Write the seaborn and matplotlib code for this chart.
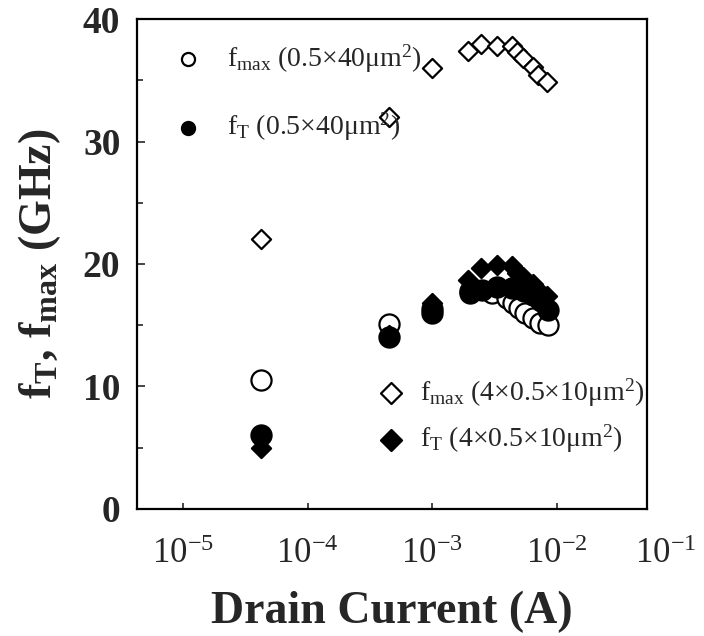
import matplotlib
matplotlib.use("Agg")
import matplotlib.pyplot as plt
import matplotlib.ticker as mticker
import pandas as pd
import seaborn as sns

# 0.5x40 um^2 device (circles)
current_small = [4.2e-5, 4.5e-4, 1.0e-3, 2.0e-3, 3.0e-3, 4.0e-3, 4.5e-3, 5.0e-3, 5.6e-3, 6.4e-3, 7.4e-3, 8.5e-3]
fmax_small = [10.5, 15.1, 16.3, 17.8, 17.6, 17.2, 16.8, 16.4, 16.0, 15.6, 15.2, 15.0]
current_small_ft = [4.2e-5, 4.5e-4, 1.0e-3, 2.0e-3, 2.5e-3, 3.3e-3, 4.4e-3, 5.5e-3, 6.5e-3, 7.5e-3, 8.5e-3]
ft_small = [6.0, 14.0, 16.0, 17.6, 17.9, 18.1, 18.0, 17.8, 17.5, 17.0, 16.2]

# 4x0.5x10 um^2 device (diamonds)
current_large = [4.2e-5, 4.5e-4, 1.0e-3, 1.95e-3, 2.45e-3, 3.3e-3, 4.4e-3, 4.8e-3, 5.4e-3, 6.4e-3, 7.1e-3, 8.4e-3]
fmax_large = [22.0, 32.0, 36.0, 37.4, 38.0, 37.8, 37.8, 37.3, 36.8, 36.1, 35.4, 34.9]
ft_large = [5.0, 14.2, 16.8, 18.7, 19.7, 19.9, 19.8, 19.3, 18.9, 18.4, 17.9, 17.4]

labels_small = ["f$_{\\rm max}$ (0.5×40μm$^2$)", "f$_{\\rm T}$ (0.5×40μm$^2$)"]
labels_large = ["f$_{\\rm max}$ (4×0.5×10μm$^2$)", "f$_{\\rm T}$ (4×0.5×10μm$^2$)"]

x_tick_values = [1e-5, 1e-4, 1e-3, 1e-2, 1e-1]
x_tick_labels = ["10$^{-5}$", "10$^{-4}$", "10$^{-3}$", "10$^{-2}$", "10$^{-1}$"]
y_tick_values = [0, 10, 20, 30, 40]

sns.set_style("ticks")
plt.rcParams["font.family"] = ["Liberation Serif", "DejaVu Serif"]
plt.rcParams["mathtext.fontset"] = "custom"
plt.rcParams["mathtext.rm"] = "Liberation Serif"
plt.rcParams["mathtext.it"] = "Liberation Serif:italic"
plt.rcParams["mathtext.bf"] = "Liberation Serif:bold"

fig = plt.figure(figsize=(7.04, 6.36), dpi=100)
ax = fig.add_axes([0.1946, 0.2, 0.7244, 0.770])

series = [
    (current_small, fmax_small, "o", "white", 210, labels_small[0]),
    (current_small_ft, ft_small, "o", "black", 210, labels_small[1]),
    (current_large, fmax_large, "D", "white", 95, labels_large[0]),
    (current_large, ft_large, "D", "black", 95, labels_large[1]),
]
handles = []
for xs, ys, mk, fc, size, lab in series:
    df = pd.DataFrame({"current": xs, "freq": ys})
    sns.scatterplot(data=df, x="current", y="freq", marker=mk, s=size,
                    facecolor=fc, edgecolor="black", linewidth=1.6,
                    label=lab, ax=ax, legend=False, zorder=3)
    handles.append(ax.collections[-1])

ax.set_xscale("log")
ax.set_xlim(10 ** -5.37, 10 ** -1.275)
ax.set_ylim(0, 40)
ax.set_xticks(x_tick_values[:-1])
ax.set_xticklabels(x_tick_labels[:-1])
ax.xaxis.set_minor_locator(mticker.NullLocator())
ax.set_yticks(y_tick_values)
ax.yaxis.set_minor_locator(mticker.MultipleLocator(5))
ax.tick_params(axis="both", which="both", direction="in", width=1.2)
ax.tick_params(axis="x", which="major", length=4, labelsize=25, pad=21)
ax.tick_params(axis="y", which="major", length=6, labelsize=27, pad=12)
ax.tick_params(axis="y", which="minor", length=4)
for lab in ax.get_yticklabels():
    lab.set_fontweight("bold")
# last decade label sits just outside the axis range in the original
ax.annotate(x_tick_labels[-1], xy=(x_tick_values[-1], 0), xycoords=ax.get_xaxis_transform(),
            xytext=(-11, -21), textcoords="offset points", ha="center", va="top",
            fontsize=25, annotation_clip=False)

for sp in ax.spines.values():
    sp.set_linewidth(1.6)
    sp.set_color("black")

ax.set_xlabel("Drain Current (A)", fontsize=33, fontweight="bold", labelpad=14)
ax.set_ylabel(r"$\mathbf{f_T}$, $\mathbf{f_{max}}$ (GHz)", fontsize=33, fontweight="bold", labelpad=14)

leg1 = ax.legend(handles[:2], labels_small, loc="upper left", bbox_to_anchor=(0.0725, 0.953),
                 frameon=False, fontsize=20, markerscale=0.65, handlelength=1.0,
                 handletextpad=0.9, labelspacing=1.3, borderpad=0, borderaxespad=0)
ax.add_artist(leg1)
ax.legend(handles[2:], labels_large, loc="upper left", bbox_to_anchor=(0.4706, 0.27),
          frameon=False, fontsize=20, markerscale=1.1, handlelength=1.0,
          handletextpad=0.55, labelspacing=0.5, borderpad=0, borderaxespad=0)

fig.savefig("out.png", dpi=100)
